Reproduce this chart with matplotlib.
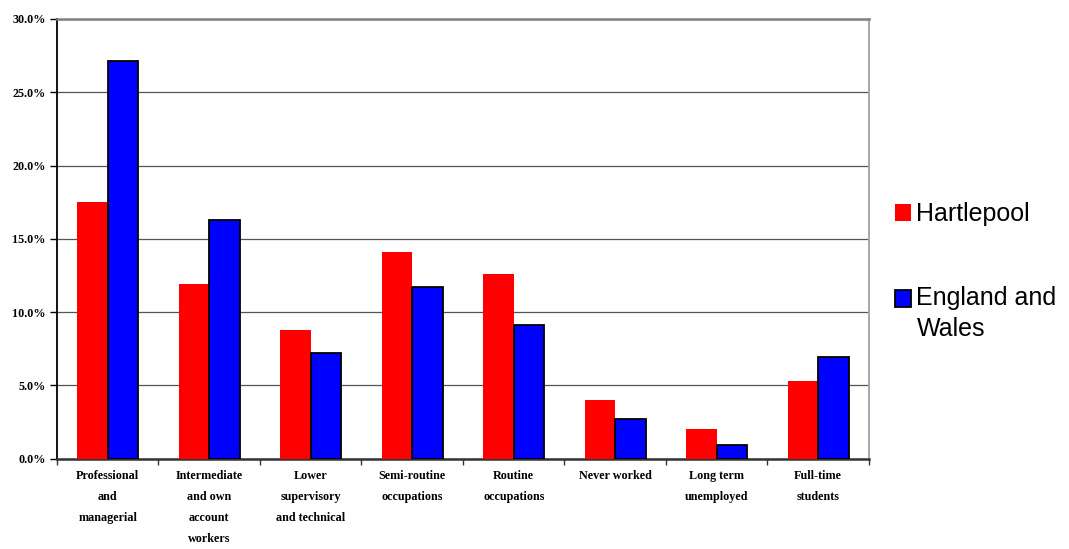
import numpy as np
from matplotlib import pyplot as plt
from matplotlib.patches import Patch, Rectangle
from matplotlib.legend_handler import HandlerPatch

# data (% of population aged 16-74)
categories = ['Professional\nand\nmanagerial',
              'Intermediate\nand own\naccount\nworkers',
              'Lower\nsupervisory\nand technical',
              'Semi-routine\noccupations',
              'Routine\noccupations',
              'Never worked',
              'Long term\nunemployed',
              'Full-time\nstudents']
hartlepool = [17.5, 11.9, 8.8, 14.1, 12.6, 4.0, 2.0, 5.3]
england_wales = [27.1, 16.3, 7.2, 11.7, 9.1, 2.7, 0.9, 6.9]
y_ticks = [0, 5, 10, 15, 20, 25, 30]

fig = plt.figure(figsize=(10.69, 5.49), dpi=100)
ax = fig.add_axes([0.0533, 0.1648, 0.7596, 0.8006])

x = np.arange(len(categories))
w = 0.3
ax.bar(x - w / 2, hartlepool, w, color='#ff0000', edgecolor='none', zorder=3)
ax.bar(x + w / 2, england_wales, w, color='#0000ff', edgecolor='black',
       linewidth=1.3, zorder=3)

ax.set_xlim(-0.5, len(categories) - 0.5)
ax.set_ylim(0, 30)
ax.set_yticks(y_ticks)
ax.set_yticklabels(['%.1f%%' % v for v in y_ticks], family='Liberation Serif',
                   fontweight='bold', fontsize=8.7)
ax.yaxis.grid(True, color='#555555', linewidth=0.9, zorder=0)

# category labels in the middle, tick marks at the boundaries
ax.set_xticks(x)
ax.set_xticklabels(categories, family='Liberation Serif', fontweight='bold',
                   fontsize=8.7, linespacing=2.02, va='top')
ax.tick_params(axis='x', length=0, pad=8)
ax.set_xticks(np.arange(len(categories) + 1) - 0.5, minor=True)
ax.tick_params(axis='x', which='minor', length=4, width=1, color='#333333')
ax.tick_params(axis='y', length=5, width=1, pad=3)

ax.spines['left'].set_color('black')
ax.spines['left'].set_linewidth(1.3)
ax.spines['bottom'].set_color('#333333')
ax.spines['bottom'].set_linewidth(1.8)
ax.spines['top'].set_color('#808080')
ax.spines['top'].set_linewidth(1.8)
ax.spines['right'].set_color('#a0a0a0')
ax.spines['right'].set_linewidth(1.3)


# square for the two-line label sits next to its first line
def first_line_square(legend, orig_handle, xdescent, ydescent, width, height, fontsize):
    return Rectangle((-xdescent, -ydescent + 11.5), width, height)


handles = [Patch(facecolor='#ff0000', edgecolor='none', label='Hartlepool'),
           Patch(facecolor='#0000ff', edgecolor='black', linewidth=1.3,
                 label='England and\nWales')]
leg = ax.legend(handles=handles, loc='center left', bbox_to_anchor=(1.02, 0.425),
                frameon=False, prop={'family': 'Liberation Sans', 'size': 18},
                handlelength=0.65, handleheight=0.65, handletextpad=0.2,
                labelspacing=2.4, borderaxespad=0,
                handler_map={handles[1]: HandlerPatch(patch_func=first_line_square)})
for t in leg.get_texts():
    t.set_linespacing(1.35)

plt.savefig('out.png', dpi=100)
